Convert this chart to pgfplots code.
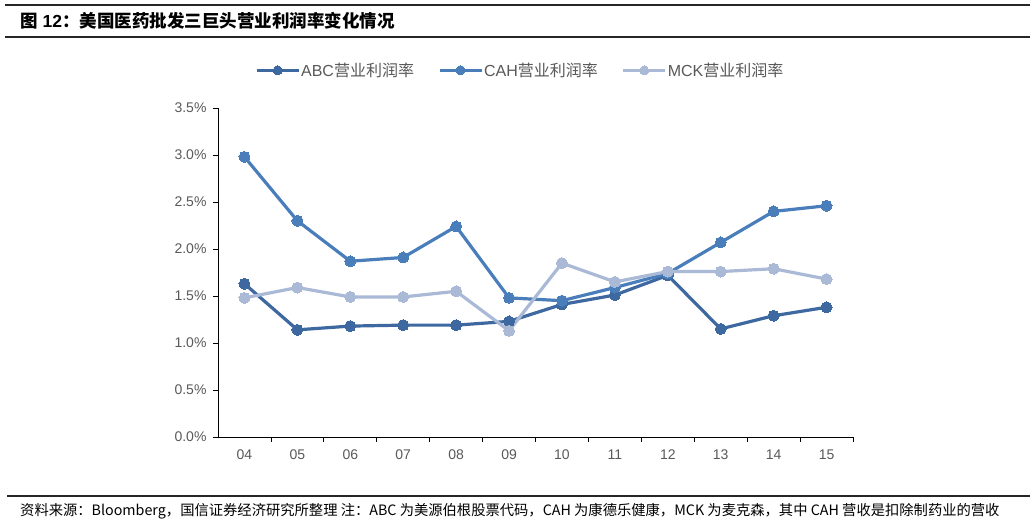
\documentclass[border=0pt]{standalone}
\usepackage{pgfplots}
\pgfplotsset{compat=1.18}
\usepackage{fontspec}
\setmainfont{Liberation Sans}
\newfontfamily\cjk{Noto Sans CJK SC}
\definecolor{abc}{RGB}{62,104,160}
\definecolor{cah}{RGB}{74,126,187}
\definecolor{mck}{RGB}{170,185,214}
\definecolor{txt}{RGB}{89,89,89}
\begin{document}
\begin{tikzpicture}[x=1pt,y=1pt]
\path[use as bounding box] (0,0) rectangle (1033,532);
\draw[line width=1.3pt,black!85] (5,527) -- (1030,527);
\draw[line width=1.3pt,black!85] (5,495) -- (1030,495);
\node[anchor=west,inner sep=0pt,font=\fontsize{17.5}{19}\selectfont\bfseries] at (20,511) {{\cjk 图} 12{\cjk ：美国医药批发三巨头营业利润率变化情况}};
\draw[line width=1.3pt,black!85] (7,36) -- (1030,36);
\node[anchor=west,inner sep=0pt,font=\fontsize{14.3}{16}\selectfont] at (20,21) {\cjk 资料来源：Bloomberg，国信证券经济研究所整理\ 注：ABC 为美源伯根股票代码，CAH 为康德乐健康，MCK 为麦克森，其中 CAH 营收是扣除制药业的营收};
\begin{axis}[
  at={(218pt,95pt)}, anchor=south west,
  scale only axis, width=635pt, height=329pt,
  xmin=-0.5, xmax=11.5, ymin=0, ymax=3.5,
  axis x line*=bottom, axis y line*=left,
  axis line style={-, line width=0.9pt, black},
  xtick={0,...,11},
  xticklabels={04,05,06,07,08,09,10,11,12,13,14,15},
  minor xtick={0.5,1.5,...,11.5},
  x tick style={draw=none},
  minor x tick style={draw=black, line width=0.8pt},
  minor tick length=5pt,
  ytick={0,0.5,...,3.5},
  yticklabels={0.0\%,0.5\%,1.0\%,1.5\%,2.0\%,2.5\%,3.0\%,3.5\%},
  y tick style={black, line width=0.8pt},
  major tick length=5pt,
  tick align=outside,
  /pgf/number format/assume math mode=true,
  ticklabel style={font=\fontsize{14}{16}\selectfont, text=txt},
  xticklabel style={yshift=-4pt},
  yticklabel style={xshift=-3pt},
  legend style={at={(0.476,1)}, anchor=south, yshift=26pt, draw=none,
    font=\fontsize{16}{18}\selectfont, text=txt, column sep=-1pt,
    /tikz/every even column/.append style={column sep=22pt}},
  legend columns=3,
  legend image code/.code={\draw[#1, line width=3pt, mark repeat=2, mark phase=2, mark size=4.5pt] plot coordinates {(0pt,0pt) (21pt,0pt) (42pt,0pt)};},
  every axis plot/.append style={line width=3.2pt, mark=*, mark size=5.5pt},
  clip=false,
]
\addplot[color=abc, mark options={fill=abc,draw=abc,line width=0pt}] coordinates {
(0,1.63) (1,1.14) (2,1.18) (3,1.19) (4,1.19) (5,1.23) (6,1.41) (7,1.51) (8,1.72) (9,1.15) (10,1.29) (11,1.38)};
\addlegendentry{ABC{\cjk 营业利润率}}
\addplot[color=cah, mark options={fill=cah,draw=cah,line width=0pt}] coordinates {
(0,2.98) (1,2.30) (2,1.87) (3,1.91) (4,2.24) (5,1.48) (6,1.45) (7,1.59) (8,1.74) (9,2.07) (10,2.40) (11,2.46)};
\addlegendentry{CAH{\cjk 营业利润率}}
\addplot[color=mck, mark options={fill=mck,draw=mck,line width=0pt}] coordinates {
(0,1.48) (1,1.59) (2,1.49) (3,1.49) (4,1.55) (5,1.13) (6,1.85) (7,1.65) (8,1.76) (9,1.76) (10,1.79) (11,1.68)};
\addlegendentry{MCK{\cjk 营业利润率}}
\end{axis}
\end{tikzpicture}
\end{document}
